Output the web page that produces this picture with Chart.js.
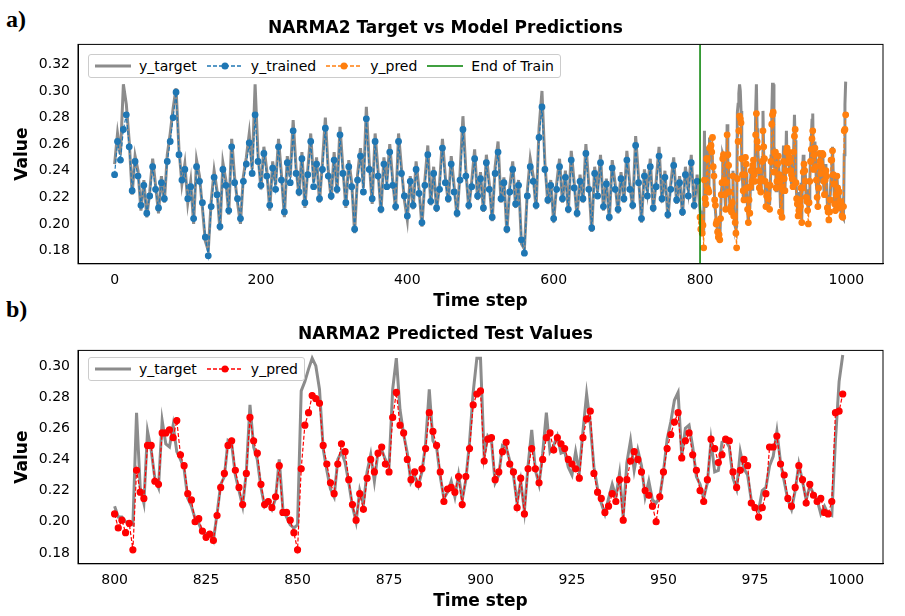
<!DOCTYPE html><html><head><meta charset="utf-8">
<script src="https://cdn.jsdelivr.net/npm/chart.js@4.4.0/dist/chart.umd.min.js"></script>
<style>
body{margin:0;background:#fff;font-family:"DejaVu Sans";}
.c{position:absolute;left:0;width:905px;}
.lab{position:absolute;font-family:"Liberation Serif";font-weight:bold;font-size:24px;}
.leg{position:absolute;background:#fff;border:1px solid #ccc;border-radius:3px;font-size:14px;display:flex;align-items:center;padding:3px 6px;gap:10px}
.leg span{display:inline-flex;align-items:center;gap:8px}
</style></head><body>
<div class="lab" style="left:6px;top:6px">a)</div>
<div class="lab" style="left:6px;top:296px">b)</div>
<div class="c" style="top:0;height:316px"><canvas id="a"></canvas></div>
<div class="c" style="top:316px;height:300px"><canvas id="b"></canvas></div>
<div class="leg" style="left:88px;top:54px">
<span><svg width="36" height="8"><line x1="0" y1="4" x2="36" y2="4" stroke="#8c8c8c" stroke-width="3"/></svg>y_target</span>
<span><svg width="36" height="8"><line x1="0" y1="4" x2="36" y2="4" stroke="#1f77b4" stroke-width="1.5" stroke-dasharray="4,2"/><circle cx="18" cy="4" r="3.5" fill="#1f77b4"/></svg>y_trained</span>
<span><svg width="36" height="8"><line x1="0" y1="4" x2="36" y2="4" stroke="#ff7f0e" stroke-width="1.5" stroke-dasharray="4,2"/><circle cx="18" cy="4" r="3.5" fill="#ff7f0e"/></svg>y_pred</span>
<span><svg width="36" height="8"><line x1="0" y1="4" x2="36" y2="4" stroke="#008000" stroke-width="1.5"/></svg>End of Train</span>
</div>
<div class="leg" style="left:88px;top:357px">
<span><svg width="36" height="8"><line x1="0" y1="4" x2="36" y2="4" stroke="#8c8c8c" stroke-width="3"/></svg>y_target</span>
<span><svg width="36" height="8"><line x1="0" y1="4" x2="36" y2="4" stroke="#ff0000" stroke-width="1.5" stroke-dasharray="4,2"/><circle cx="18" cy="4" r="3.5" fill="#ff0000"/></svg>y_pred</span>
</div>
<script>
const trainStep=4;
const trainValues=[0.237,0.262,0.248,0.271,0.282,0.258,0.225,0.247,0.236,0.214,0.229,0.208,0.221,0.243,0.226,0.212,0.231,0.219,0.247,0.262,0.280,0.299,0.252,0.233,0.241,
0.219,0.228,0.204,0.243,0.232,0.216,0.190,0.176,0.213,0.235,0.222,0.198,0.241,0.229,0.210,0.258,0.231,0.219,0.204,0.232,0.245,0.261,0.238,0.282,0.247,
0.229,0.253,0.236,0.214,0.242,0.226,0.258,0.233,0.209,0.246,0.231,0.270,0.238,0.224,0.249,0.216,0.237,0.262,0.228,0.245,0.219,0.241,0.272,0.236,0.221,
0.248,0.226,0.267,0.238,0.216,0.243,0.228,0.196,0.233,0.251,0.224,0.279,0.241,0.219,0.262,0.236,0.211,0.245,0.228,0.254,0.229,0.213,0.262,0.238,0.221,
0.206,0.232,0.214,0.241,0.223,0.201,0.229,0.252,0.217,0.238,0.212,0.226,0.257,0.231,0.219,0.245,0.224,0.208,0.233,0.271,0.236,0.214,0.228,0.249,0.221,
0.234,0.212,0.246,0.226,0.205,0.238,0.254,0.219,0.231,0.196,0.224,0.241,0.215,0.229,0.188,0.178,0.221,0.243,0.232,0.214,0.265,0.288,0.241,0.218,0.229,
0.204,0.226,0.243,0.219,0.235,0.211,0.248,0.227,0.208,0.232,0.219,0.253,0.226,0.197,0.238,0.221,0.246,0.213,0.230,0.205,0.242,0.226,0.211,0.234,0.219,
0.248,0.226,0.214,0.259,0.231,0.204,0.236,0.221,0.243,0.212,0.228,0.251,0.219,0.235,0.207,0.226,0.244,0.218,0.231,0.209,0.237,0.221,0.246,0.214,0.232];
const trainTarget=[0.245,0.268,0.252,0.305,0.290,0.262,0.222,0.251,0.240,0.210,0.233,0.205,0.224,0.249,0.229,0.208,0.236,0.216,0.252,0.268,0.287,0.302,0.256,0.230,0.245,
0.216,0.232,0.200,0.248,0.236,0.212,0.187,0.180,0.217,0.240,0.225,0.195,0.246,0.233,0.207,0.264,0.235,0.216,0.200,0.236,0.250,0.268,0.241,0.305,0.252,
0.226,0.258,0.240,0.210,0.247,0.229,0.264,0.237,0.205,0.251,0.235,0.278,0.242,0.221,0.254,0.212,0.241,0.268,0.231,0.250,0.216,0.246,0.280,0.240,0.218,
0.254,0.223,0.273,0.242,0.212,0.248,0.231,0.193,0.237,0.257,0.227,0.288,0.246,0.215,0.268,0.240,0.208,0.250,0.231,0.260,0.233,0.210,0.268,0.242,0.218,
0.203,0.236,0.211,0.247,0.226,0.198,0.233,0.259,0.214,0.243,0.209,0.230,0.264,0.235,0.216,0.251,0.228,0.205,0.238,0.281,0.240,0.211,0.232,0.256,0.218,
0.239,0.209,0.252,0.230,0.202,0.243,0.262,0.216,0.235,0.193,0.228,0.247,0.212,0.233,0.185,0.181,0.225,0.249,0.236,0.211,0.272,0.300,0.246,0.215,0.233,
0.201,0.230,0.249,0.216,0.240,0.208,0.255,0.231,0.205,0.237,0.216,0.260,0.230,0.194,0.243,0.224,0.252,0.210,0.234,0.202,0.248,0.230,0.208,0.239,0.216,
0.255,0.230,0.211,0.266,0.235,0.201,0.241,0.224,0.249,0.209,0.232,0.258,0.216,0.240,0.204,0.230,0.250,0.215,0.236,0.206,0.243,0.225,0.252,0.211,0.237];
const testStart=800;
const testPred=[0.205,0.196,0.201,0.193,0.199,0.182,0.233,0.219,0.215,0.249,
0.249,0.226,0.224,0.257,0.257,0.259,0.254,0.265,0.243,0.236,
0.218,0.214,0.200,0.202,0.194,0.190,0.192,0.188,0.204,0.222,
0.231,0.249,0.252,0.233,0.222,0.211,0.231,0.267,0.252,0.244,
0.224,0.211,0.213,0.209,0.216,0.236,0.206,0.206,0.201,0.193,
0.182,0.234,0.262,0.270,0.281,0.279,0.276,0.249,0.237,0.225,
0.218,0.237,0.250,0.245,0.227,0.211,0.201,0.218,0.208,0.228,
0.240,0.232,0.244,0.248,0.237,0.232,0.267,0.283,0.262,0.257,
0.240,0.227,0.232,0.224,0.234,0.247,0.270,0.258,0.249,0.232,
0.213,0.221,0.222,0.219,0.229,0.211,0.229,0.247,0.275,0.282,
0.284,0.239,0.253,0.254,0.227,0.232,0.245,0.251,0.237,0.232,
0.209,0.228,0.205,0.234,0.247,0.234,0.225,0.240,0.254,0.257,
0.246,0.254,0.250,0.247,0.240,0.237,0.234,0.228,0.254,0.266,
0.271,0.231,0.219,0.215,0.206,0.210,0.218,0.213,0.227,0.201,
0.227,0.239,0.245,0.240,0.232,0.220,0.217,0.210,0.200,0.216,
0.232,0.247,0.256,0.264,0.270,0.241,0.252,0.257,0.243,0.233,
0.220,0.213,0.227,0.253,0.247,0.238,0.243,0.253,0.252,0.232,
0.222,0.233,0.240,0.236,0.212,0.209,0.203,0.209,0.218,0.248,
0.248,0.255,0.237,0.230,0.215,0.210,0.222,0.236,0.227,0.212,
0.224,0.217,0.213,0.215,0.206,0.205,0.213,0.270,0.271,0.282];
const testTarget=[0.210,0.203,0.203,0.200,0.199,0.198,0.270,0.222,0.212,0.258,
0.246,0.228,0.222,0.265,0.250,0.248,0.262,0.245,0.240,0.234,
0.215,0.210,0.202,0.199,0.193,0.192,0.193,0.188,0.205,0.224,
0.229,0.252,0.250,0.230,0.220,0.210,0.232,0.275,0.248,0.240,
0.222,0.210,0.213,0.208,0.215,0.240,0.208,0.203,0.198,0.196,
0.198,0.284,0.290,0.298,0.305,0.300,0.285,0.247,0.233,0.221,
0.216,0.240,0.245,0.238,0.225,0.210,0.200,0.220,0.211,0.232,
0.243,0.226,0.245,0.246,0.240,0.235,0.285,0.305,0.272,0.256,
0.244,0.225,0.229,0.223,0.232,0.250,0.285,0.252,0.248,0.229,
0.215,0.219,0.226,0.216,0.230,0.214,0.227,0.251,0.283,0.305,
0.305,0.242,0.255,0.252,0.225,0.230,0.249,0.248,0.239,0.230,
0.212,0.226,0.207,0.236,0.259,0.233,0.224,0.244,0.270,0.245,
0.249,0.255,0.244,0.245,0.235,0.230,0.245,0.232,0.258,0.282,
0.263,0.235,0.221,0.212,0.205,0.215,0.224,0.216,0.231,0.203,
0.238,0.252,0.233,0.246,0.236,0.216,0.226,0.214,0.212,0.216,
0.232,0.253,0.264,0.278,0.283,0.242,0.260,0.262,0.248,0.229,
0.224,0.215,0.225,0.252,0.232,0.233,0.251,0.252,0.248,0.228,
0.221,0.245,0.234,0.230,0.214,0.210,0.207,0.220,0.222,0.236,
0.242,0.258,0.238,0.226,0.214,0.208,0.220,0.237,0.226,0.214,
0.223,0.218,0.214,0.205,0.210,0.205,0.204,0.252,0.290,0.307];

const trainPts=trainValues.map((v,i)=>({x:i*trainStep,y:v}));
const trainTgtPts=trainTarget.map((v,i)=>({x:i*trainStep,y:v}));
const predPts=testPred.map((v,i)=>({x:testStart+i,y:v}));
const tgtPts=testTarget.map((v,i)=>({x:testStart+i,y:v}));
const fullTarget=trainTgtPts.concat(tgtPts);

const font={family:"DejaVu Sans",size:14};
function axes(xmin,xmax,xstep,ymin,ymax,ystep){
 return {x:{type:'linear',min:xmin,max:xmax,afterBuildTicks:a=>{const t=[];for(let v=Math.ceil(xmin/xstep)*xstep;v<=xmax;v+=xstep)t.push({value:v});a.ticks=t;},
   grid:{display:false,drawTicks:true,tickLength:5,color:'#000'},border:{color:'#000'},
   ticks:{color:'#000',font,maxRotation:0,autoSkip:false,callback:v=>String(v)},
   title:{display:true,text:'Time step',color:'#000',font:{family:"DejaVu Sans",size:17,weight:'bold'},padding:{top:0}}},
  y:{min:ymin,max:ymax,afterFit:a=>{a.width=70;},afterBuildTicks:a=>{const t=[];for(let v=0.18;v<=ymax+1e-9;v+=ystep)t.push({value:+v.toFixed(2)});a.ticks=t;},
   grid:{display:false,tickLength:5,color:'#000'},border:{color:'#000'},
   ticks:{color:'#000',font,callback:v=>v.toFixed(2)},
   title:{display:true,text:'Value',color:'#000',font:{family:"DejaVu Sans",size:17,weight:'bold'}}}};
}
const frame={id:'frame',afterDraw(c){const a=c.chartArea,x=c.ctx;x.save();x.strokeStyle='#000';x.lineWidth=1;x.strokeRect(a.left,a.top,a.right-a.left,a.bottom-a.top);x.restore();}};
const common={responsive:true,maintainAspectRatio:false,animation:false,plugins:{legend:{display:false},tooltip:{enabled:false}}};

new Chart(document.getElementById('a'),{type:'line',plugins:[frame],data:{datasets:[
 {data:fullTarget,borderColor:'#8c8c8c',borderWidth:3,pointRadius:0,order:5},
 {data:trainPts,borderColor:'#1f77b4',backgroundColor:'#1f77b4',borderWidth:1.2,borderDash:[4,2],pointRadius:2.8,order:2},
 {data:predPts,borderColor:'#ff7f0e',backgroundColor:'#ff7f0e',borderWidth:1.2,borderDash:[4,2],pointRadius:2.8,order:1},
 {data:[{x:testStart,y:0.17},{x:testStart,y:0.335}],borderColor:'#008000',borderWidth:1.5,pointRadius:0,order:0}
]},options:{...common,layout:{padding:{left:8,right:22,top:0,bottom:0}},
 plugins:{...common.plugins,title:{display:true,text:'NARMA2 Target vs Model Predictions',color:'#000',font:{family:"DejaVu Sans",size:17,weight:'bold'},padding:{top:18,bottom:6}}},
 scales:axes(-50,1050,200,0.17,0.335,0.02)}});

new Chart(document.getElementById('b'),{type:'line',plugins:[frame],data:{datasets:[
 {data:tgtPts,borderColor:'#8c8c8c',borderWidth:3,pointRadius:0,order:5},
 {data:predPts,borderColor:'#ff0000',backgroundColor:'#ff0000',borderWidth:1.2,borderDash:[4,2],pointRadius:3,order:1}
]},options:{...common,layout:{padding:{left:8,right:22,top:0,bottom:0}},
 plugins:{...common.plugins,title:{display:true,text:'NARMA2 Predicted Test Values',color:'#000',font:{family:"DejaVu Sans",size:17,weight:'bold'},padding:{top:8,bottom:6}}},
 scales:axes(790,1010,25,0.173,0.31,0.02)}});
</script></body></html>
